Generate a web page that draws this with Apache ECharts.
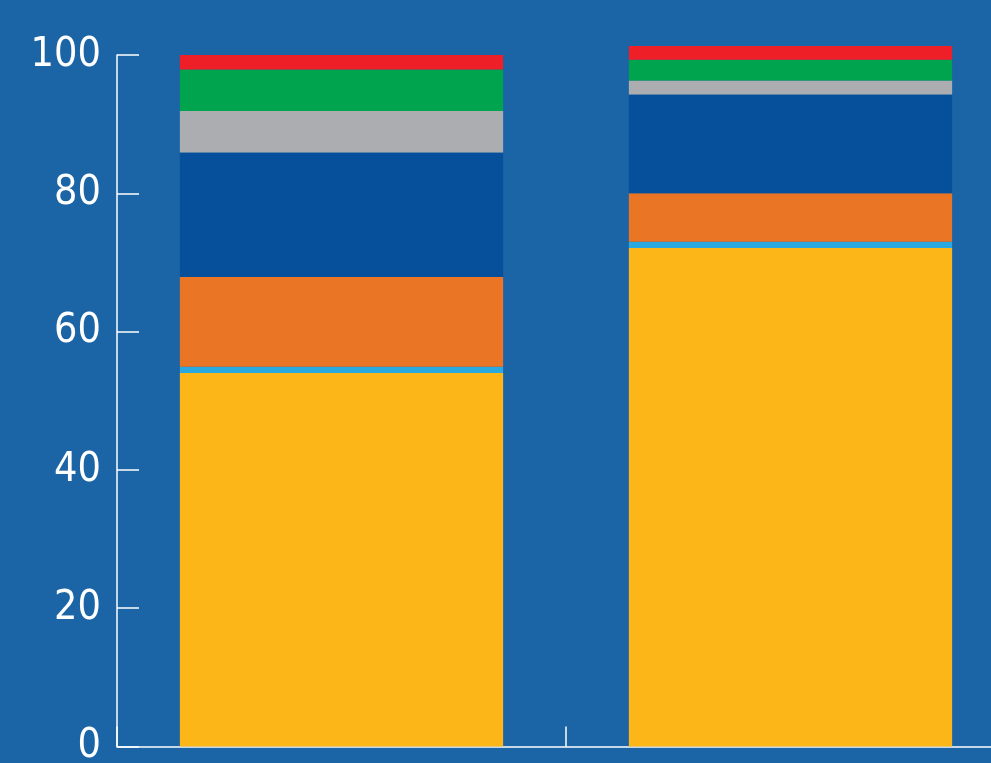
<!DOCTYPE html>
<html>
<head>
<meta charset="utf-8">
<script src="https://cdn.jsdelivr.net/npm/echarts@6/dist/echarts.min.js"></script>
<style>
html,body{margin:0;padding:0;background:#1b64a6;overflow:hidden;}
#c{width:991px;height:763px;}
</style>
</head>
<body>
<div id="c"></div>
<script>
const categories = ['A', 'B'];
const yTicks = [0, 20, 40, 60, 80, 100];
const seriesNames = ['s1', 's2', 's3', 's4', 's5', 's6', 's7'];
const s1 = [54, 72.1];
const s2 = [0.9, 0.9];
const s3 = [13, 7];
const s4 = [18, 14.3];
const s5 = [6, 2];
const s6 = [6, 3];
const s7 = [2.1, 2];
const seriesData = [s1, s2, s3, s4, s5, s6, s7];
const colors = ['#fcb618', '#29a9e0', '#ea7625', '#06509b', '#acadb1', '#00a44e', '#ee1f26'];

const chart = echarts.init(document.getElementById('c'));
chart.setOption({
  backgroundColor: '#1b64a6',
  animation: false,
  grid: { left: 117, right: -24, top: 55, bottom: 16.5, containLabel: false, outerBoundsMode: 'none' },
  xAxis: {
    type: 'category',
    data: categories,
    axisLine: { lineStyle: { color: '#ffffff', width: 1.5 } },
    axisTick: { show: true, inside: true, length: 20, lineStyle: { color: '#ffffff', width: 1.5 } },
    axisLabel: { show: false }
  },
  yAxis: {
    type: 'value',
    min: yTicks[0],
    max: yTicks[yTicks.length - 1],
    interval: yTicks[1] - yTicks[0],
    splitLine: { show: false },
    axisLine: { show: true, lineStyle: { color: '#ffffff', width: 1.5 } },
    axisTick: { show: true, inside: true, length: 22, lineStyle: { color: '#ffffff', width: 1.5 } },
    axisLabel: {
      color: '#ffffff',
      fontFamily: '"Liberation Sans Narrow", "DejaVu Sans Condensed", sans-serif',
      fontSize: 41,
      margin: 16,
      padding: [5, 0, 0, 0]
    }
  },
  series: seriesData.map((d, i) => ({
    name: seriesNames[i],
    type: 'bar',
    stack: 'total',
    data: d,
    barWidth: '72%',
    clip: false,
    itemStyle: { color: colors[i] }
  }))
});
</script>
</body>
</html>
